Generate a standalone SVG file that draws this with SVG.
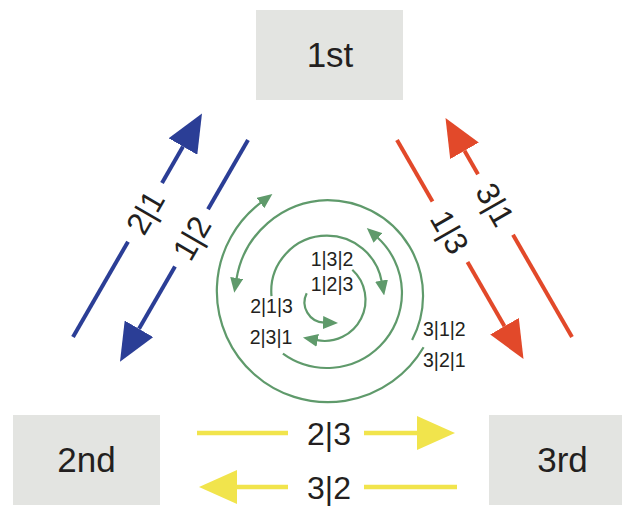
<svg xmlns="http://www.w3.org/2000/svg" width="622" height="506" viewBox="0 0 622 506">
  <style>
    text { font-family: "Liberation Sans", Arial, sans-serif; fill: #231f20; }
    .box { fill: #e3e4e1; }
    .node-label { font-size: 35px; text-anchor: middle; }
    .pair-label { font-size: 32px; text-anchor: middle; }
    .state { font-size: 19.5px; }
    .blue { stroke: #2b3e96; stroke-width: 4; fill: none; }
    .red { stroke: #e2492a; stroke-width: 4; fill: none; }
    .yellow { stroke: #f1e44c; stroke-width: 4.5; fill: none; }
    .green { stroke: #5f9a6b; stroke-width: 2.2; fill: none; }
  </style>
  <defs>
    <marker id="head-blue" viewBox="0 0 38 33" markerWidth="38" markerHeight="33" refX="0" refY="16.5" orient="auto" markerUnits="userSpaceOnUse">
      <path d="M0,0 L38,16.5 L0,33 z" fill="#2b3e96"/>
    </marker>
    <marker id="head-red" viewBox="0 0 38 33" markerWidth="38" markerHeight="33" refX="0" refY="16.5" orient="auto" markerUnits="userSpaceOnUse">
      <path d="M0,0 L38,16.5 L0,33 z" fill="#e2492a"/>
    </marker>
    <marker id="head-yellow" viewBox="0 0 38 34" markerWidth="38" markerHeight="34" refX="0" refY="17" orient="auto" markerUnits="userSpaceOnUse">
      <path d="M0,0 L38,17 L0,34 z" fill="#f1e44c"/>
    </marker>
    <marker id="head-green" viewBox="0 0 15 13" markerWidth="15" markerHeight="13" refX="1" refY="6.5" orient="auto" markerUnits="userSpaceOnUse">
      <path d="M0,0 L15,6.5 L0,13 z" fill="#5f9a6b"/>
    </marker>
  </defs>

  <!-- position boxes -->
  <g id="node-1st">
    <rect class="box" x="256" y="10" width="147" height="90"/>
    <text class="node-label" x="330" y="67">1st</text>
  </g>
  <g id="node-2nd">
    <rect class="box" x="13" y="415" width="147" height="90"/>
    <text class="node-label" x="86.5" y="472">2nd</text>
  </g>
  <g id="node-3rd">
    <rect class="box" x="489" y="415" width="147" height="90"/>
    <text class="node-label" x="562.5" y="472">3rd</text>
  </g>

  <g id="connectors">
    <!-- 1st <-> 2nd -->
    <g id="edge-2-1">
      <line class="blue" x1="73" y1="337" x2="128" y2="241.7"/>
      <line class="blue" x1="162" y1="182.9" x2="183" y2="146.5" marker-end="url(#head-blue)"/>
      <text class="pair-label" transform="translate(145,212.3) rotate(-60)" y="11.5">2|1</text>
    </g>
    <g id="edge-1-2">
      <line class="blue" x1="248" y1="140" x2="208" y2="209.3"/>
      <line class="blue" x1="175" y1="266.4" x2="139" y2="328.8" marker-end="url(#head-blue)"/>
      <text class="pair-label" transform="translate(191.5,237.9) rotate(-60)" y="11.5">1|2</text>
    </g>

    <!-- 1st <-> 3rd -->
    <g id="edge-1-3">
      <line class="red" x1="397" y1="140" x2="432.5" y2="201.5"/>
      <line class="red" x1="467.5" y1="262.1" x2="504.5" y2="326.2" marker-end="url(#head-red)"/>
      <text class="pair-label" transform="translate(450,231.8) rotate(60)" y="11.5">1|3</text>
    </g>
    <g id="edge-3-1">
      <line class="red" x1="572" y1="337" x2="513" y2="234.8"/>
      <line class="red" x1="478" y1="174.2" x2="464.5" y2="150.8" marker-end="url(#head-red)"/>
      <text class="pair-label" transform="translate(495.5,204.5) rotate(60)" y="11.5">3|1</text>
    </g>

    <!-- 2nd <-> 3rd -->
    <g id="edge-2-3">
      <line class="yellow" x1="197" y1="433" x2="288" y2="433"/>
      <line class="yellow" x1="364" y1="433" x2="417" y2="433" marker-end="url(#head-yellow)"/>
      <text class="pair-label" x="329" y="444.5">2|3</text>
    </g>
    <g id="edge-3-2">
      <line class="yellow" x1="457" y1="487" x2="364" y2="487"/>
      <line class="yellow" x1="288" y1="487" x2="237" y2="487" marker-end="url(#head-yellow)"/>
      <text class="pair-label" x="329" y="498.5">3|2</text>
    </g>

    <!-- spiral of full orderings -->
    <g id="spiral">
      <path class="green" d="M423.6,347.3 A111,111 0 1 1 261.2,202.4" marker-end="url(#head-green)"/>
      <path class="green" d="M412.1,340 A95.5,95.5 0 0 0 327.5,200.1 A94,94 0 0 0 236.5,279" marker-end="url(#head-green)"/>
      <path class="green" d="M282.9,353.7 A75,75 0 0 0 380,346 A75,75 0 0 0 377.2,237.3" marker-end="url(#head-green)"/>
      <path class="green" d="M271.5,296.1 A55.6,55.6 0 0 1 326.9,235.7 A55.6,55.6 0 0 1 381.7,281.6" marker-end="url(#head-green)"/>
      <path class="green" d="M352.3,269.8 A41,41 0 0 1 316.7,340.2" marker-end="url(#head-green)"/>
      <path class="green" d="M306.7,293.3 A20.2,20.2 0 0 0 324,322.6" marker-end="url(#head-green)"/>

      <text class="state" x="332" y="266" text-anchor="middle">1|3|2</text>
      <text class="state" x="332" y="291" text-anchor="middle">1|2|3</text>
      <text class="state" x="271.5" y="313" text-anchor="middle">2|1|3</text>
      <text class="state" x="271" y="344" text-anchor="middle">2|3|1</text>
      <text class="state" x="423" y="336">3|1|2</text>
      <text class="state" x="423" y="367">3|2|1</text>
    </g>
  </g>
</svg>
